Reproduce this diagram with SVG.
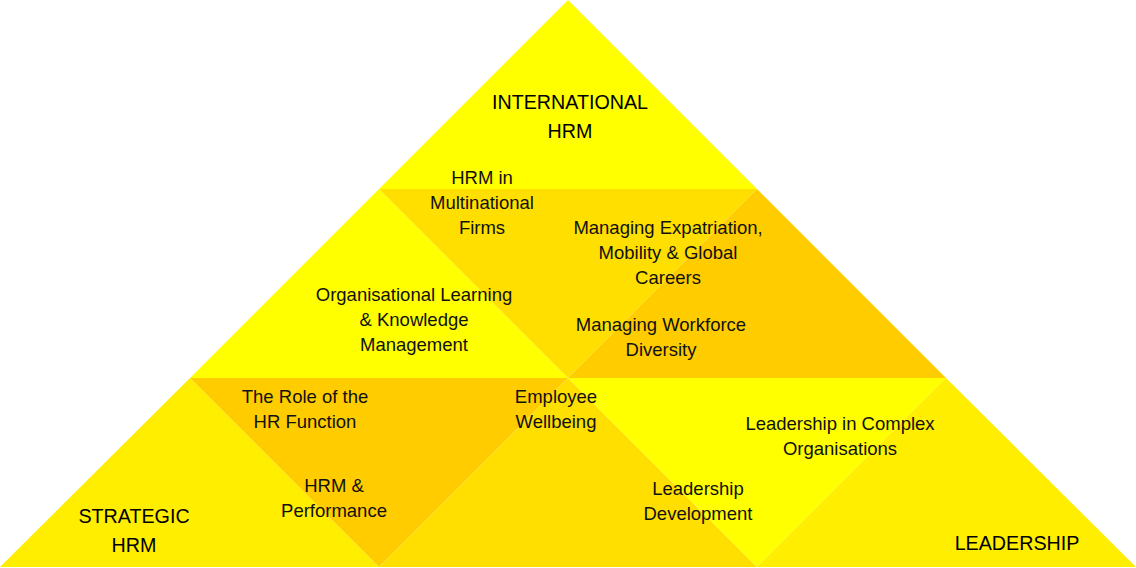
<svg xmlns="http://www.w3.org/2000/svg" width="1136" height="568" viewBox="0 0 1136 568">
<style>
.t{font-family:"Liberation Sans",Arial,sans-serif;font-size:18.5px;fill:#111;text-anchor:middle}
.b{font-family:"Liberation Sans",Arial,sans-serif;font-size:19.7px;fill:#000;text-anchor:middle}
.y1{fill:#FFFF00}
.y2{fill:#FFEE00}
.g{fill:#FFDF00}
.o{fill:#FFCC00}
</style>
<rect width="1136" height="568" fill="#FFFFFF"/>
<g id="shapes">
<polygon id="top" class="y1" points="568,0 379,189 757,189"/>
<polygon id="mid-left" class="y1" points="379,189 190,378 568,378"/>
<polygon id="mid-inv" class="g" points="379,189 757,189 568,378"/>
<polygon id="mid-right" class="o" points="757,189 568,378 946,378"/>
<polygon id="bot-left" class="y2" points="190,378 0,567 379,567"/>
<polygon id="bot-inv-left" class="o" points="190,378 568,378 379,567"/>
<polygon id="bot-mid" class="g" points="568,378 379,567 757,567"/>
<polygon id="bot-inv-right" class="y1" points="568,378 946,378 757,567"/>
<polygon id="bot-right" class="y2" points="946,378 757,567 1136,567"/>
</g>
<g id="international-hrm"><text class="b" x="570" y="109">INTERNATIONAL</text><text class="b" x="570" y="138">HRM</text></g>
<g id="strategic-hrm"><text class="b" x="134" y="523">STRATEGIC</text><text class="b" x="134" y="552">HRM</text></g>
<g id="leadership"><text class="b" x="1017" y="550">LEADERSHIP</text></g>
<g id="hrm-multinational"><text class="t" x="482" y="184">HRM in</text><text class="t" x="482" y="209">Multinational</text><text class="t" x="482" y="234">Firms</text></g>
<g id="expatriation"><text class="t" x="668" y="234">Managing Expatriation,</text><text class="t" x="668" y="259">Mobility &amp; Global</text><text class="t" x="668" y="284">Careers</text></g>
<g id="diversity"><text class="t" x="661" y="331">Managing Workforce</text><text class="t" x="661" y="356">Diversity</text></g>
<g id="org-learning"><text class="t" x="414" y="301">Organisational Learning</text><text class="t" x="414" y="326">&amp; Knowledge</text><text class="t" x="414" y="351">Management</text></g>
<g id="hr-function"><text class="t" x="305" y="403">The Role of the</text><text class="t" x="305" y="428">HR Function</text></g>
<g id="wellbeing"><text class="t" x="556" y="403">Employee</text><text class="t" x="556" y="428">Wellbeing</text></g>
<g id="performance"><text class="t" x="334" y="492">HRM &amp;</text><text class="t" x="334" y="517">Performance</text></g>
<g id="leadership-dev"><text class="t" x="698" y="495">Leadership</text><text class="t" x="698" y="520">Development</text></g>
<g id="complex-orgs"><text class="t" x="840" y="430">Leadership in Complex</text><text class="t" x="840" y="455">Organisations</text></g>
<g id="connectors"/>
</svg>
